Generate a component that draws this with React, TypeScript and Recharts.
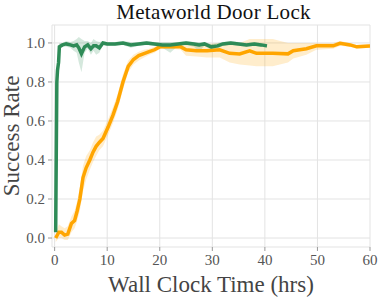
import React from 'react';
import { ComposedChart, Line, Area, XAxis, YAxis, CartesianGrid } from 'recharts';

// orange run (slower, longer)
const orangeT = [0.2, 0.8, 1.3, 1.9, 2.5, 3.2, 3.8, 4.3, 4.8, 5.4, 6.0, 6.7, 7.3, 7.9, 8.5, 9.2, 10.2, 11.1, 12.0, 13.0, 14.0, 15.0, 16.0, 17.0, 18.0, 19.0, 20.0, 22.0, 24.0, 25.0, 27.0, 29.0, 31.4, 33.3, 35.2, 37.1, 38.4, 41.5, 44.4, 45.4, 47.9, 49.8, 53.0, 54.3, 56.2, 57.5, 60.0];
const orangeMean = [0.0, 0.03, 0.03, 0.015, 0.02, 0.075, 0.09, 0.14, 0.2, 0.31, 0.36, 0.4, 0.44, 0.47, 0.49, 0.51, 0.57, 0.63, 0.7, 0.8, 0.88, 0.915, 0.935, 0.945, 0.955, 0.965, 0.98, 0.98, 0.98, 0.965, 0.96, 0.96, 0.965, 0.947, 0.944, 0.96, 0.947, 0.947, 0.944, 0.96, 0.97, 0.985, 0.985, 0.998, 0.99, 0.98, 0.985];
const orangeLow = [-0.02, 0.0, 0.0, -0.01, -0.01, 0.03, 0.05, 0.09, 0.14, 0.24, 0.3, 0.35, 0.39, 0.42, 0.45, 0.47, 0.53, 0.59, 0.66, 0.76, 0.85, 0.89, 0.91, 0.925, 0.94, 0.95, 0.97, 0.97, 0.965, 0.935, 0.93, 0.925, 0.925, 0.9, 0.89, 0.885, 0.88, 0.88, 0.9, 0.92, 0.94, 0.965, 0.97, 0.985, 0.98, 0.97, 0.975];
const orangeHigh = [0.02, 0.07, 0.06, 0.05, 0.06, 0.11, 0.14, 0.19, 0.26, 0.37, 0.42, 0.45, 0.49, 0.52, 0.53, 0.55, 0.61, 0.67, 0.74, 0.84, 0.91, 0.94, 0.955, 0.965, 0.97, 0.98, 0.99, 0.99, 0.995, 0.995, 0.99, 0.995, 1.0, 1.0, 1.0, 1.02, 1.02, 1.02, 1.0, 1.0, 1.0, 1.0, 1.0, 1.01, 1.0, 0.99, 0.995];

// green run (fast)
const greenT = [0.2, 0.42, 0.55, 0.75, 0.9, 1.5, 2.2, 3.0, 3.6, 4.2, 4.6, 5.1, 5.7, 6.3, 6.9, 7.4, 7.9, 8.5, 9.2, 10, 11.5, 13, 14.5, 16, 17.5, 19, 20.5, 22, 23.5, 25, 26.5, 27.5, 28.5, 29.8, 31, 32, 33.5, 35, 36.5, 38, 39.3, 40.4];
const greenMean = [0.03, 0.8, 0.86, 0.9, 0.98, 0.99, 0.995, 0.99, 0.985, 0.99, 0.975, 0.945, 0.98, 0.99, 0.97, 0.985, 0.985, 0.975, 1.0, 0.995, 0.995, 1.0, 0.99, 0.995, 1.0, 0.995, 0.99, 0.99, 0.995, 1.0, 0.995, 0.99, 0.995, 0.98, 0.985, 0.995, 1.0, 0.995, 0.99, 0.995, 0.99, 0.985];
const greenLow = [0.0, 0.74, 0.82, 0.87, 0.96, 0.98, 0.98, 0.975, 0.96, 0.95, 0.9, 0.85, 0.95, 0.97, 0.94, 0.96, 0.94, 0.95, 0.99, 0.985, 0.985, 0.99, 0.975, 0.985, 0.99, 0.985, 0.975, 0.95, 0.985, 0.99, 0.98, 0.955, 0.985, 0.965, 0.97, 0.985, 0.99, 0.985, 0.98, 0.985, 0.98, 0.975];
const greenHigh = [0.06, 0.86, 0.9, 0.93, 1.0, 1.0, 1.01, 1.005, 1.01, 1.02, 1.03, 1.02, 1.01, 1.01, 1.0, 1.02, 1.01, 1.005, 1.01, 1.005, 1.005, 1.01, 1.005, 1.005, 1.01, 1.005, 1.005, 1.005, 1.005, 1.01, 1.005, 1.005, 1.005, 0.995, 1.0, 1.005, 1.01, 1.005, 1.0, 1.005, 1.0, 0.995];

const xTicks = [0, 10, 20, 30, 40, 50, 60];
const yTicks = [0, 0.2, 0.4, 0.6, 0.8, 1.0];

const orangeData = orangeT.map((t, i) => ({ t, mean: orangeMean[i], band: [orangeLow[i], orangeHigh[i]] }));
const greenData = greenT.map((t, i) => ({ t, mean: greenMean[i], band: [greenLow[i], greenHigh[i]] }));

const FONT = '"Liberation Serif", "DejaVu Serif", serif';
const ORANGE = '#ffa500';
const GREEN = '#2e8b57';

const XTick = (props: any) => {
  const { x, y, payload } = props;
  return (
    <text x={x} y={y + 12} textAnchor="middle" fontSize={15} fill="#555" fontFamily={FONT}>
      {payload.value}
    </text>
  );
};

const YTick = (props: any) => {
  const { x, y, payload } = props;
  return (
    <text x={x} y={y + 5} textAnchor="end" fontSize={15} fill="#555" fontFamily={FONT}>
      {Number(payload.value).toFixed(1)}
    </text>
  );
};

const App: React.FC = () => {
  return (
    <div style={{ position: 'absolute', left: 0, top: 0, width: 379, height: 297, background: '#fff', fontFamily: FONT }}>
      <div style={{ position: 'absolute', left: 0, top: 0, width: 427, textAlign: 'center', fontSize: 21, lineHeight: '24px', letterSpacing: 0.3, color: '#111' }}>
        Metaworld Door Lock
      </div>
      <ComposedChart width={379} height={297} margin={{ top: 25, right: 9, left: 0, bottom: 0 }} style={{ fontFamily: FONT }}>
        <CartesianGrid stroke="#e3e3e3" strokeWidth={1} />
        <XAxis
          type="number"
          dataKey="t"
          domain={[-0.5, 60]}
          ticks={xTicks}
          allowDataOverflow
          axisLine={false}
          tickSize={4}
          tickMargin={2}
          tickLine={{ stroke: '#999' }}
          tick={<XTick />}
          height={50}
          label={{ value: 'Wall Clock Time (hrs)', position: 'center', dy: 12, fontSize: 23, fill: '#444', fontFamily: FONT }}
        />
        <YAxis
          type="number"
          domain={[-0.046, 1.092]}
          ticks={yTicks}
          allowDataOverflow
          axisLine={false}
          tickSize={4}
          tickMargin={3}
          tickLine={{ stroke: '#999' }}
          tick={<YTick />}
          width={52}
          label={{ value: 'Success Rate', angle: -90, position: 'center', dx: -15, fontSize: 23, fill: '#444', fontFamily: FONT, textAnchor: 'middle' }}
        />
        <Area data={orangeData} dataKey="band" type="linear" stroke="none" fill={ORANGE} fillOpacity={0.2} isAnimationActive={false} />
        <Area data={greenData} dataKey="band" type="linear" stroke="none" fill={GREEN} fillOpacity={0.2} isAnimationActive={false} />
        <Line data={orangeData} dataKey="mean" type="linear" stroke={ORANGE} strokeWidth={3.5} dot={false} isAnimationActive={false} />
        <Line data={greenData} dataKey="mean" type="linear" stroke={GREEN} strokeWidth={3.5} dot={false} isAnimationActive={false} />
      </ComposedChart>
    </div>
  );
};

export default App;
